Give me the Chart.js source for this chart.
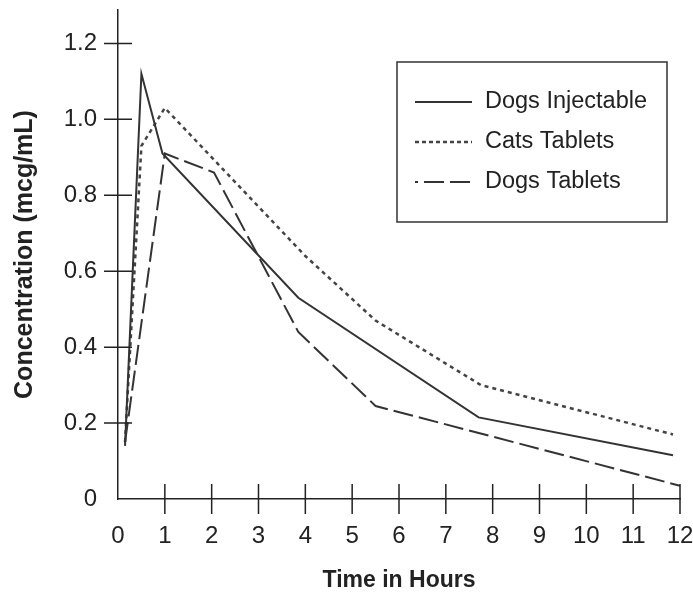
<!DOCTYPE html>
<html>
<head>
<meta charset="utf-8">
<script src="https://cdn.jsdelivr.net/npm/chart.js@4"></script>
<style>
  body { margin: 0; background: #fff; }
  #wrap { width: 693px; height: 595px; }
</style>
</head>
<body>
<div id="wrap"><canvas id="conc" width="693" height="595"></canvas></div>
<script>
// values (hours, mcg/mL)
const injTimes = [0.15, 0.5, 0.95, 3.85, 7.7, 11.85];
const injConc = [0.14, 1.12, 0.91, 0.53, 0.215, 0.115];

const catTimes = [0.15, 0.5, 1, 4, 5.5, 7.75, 11.85];
const catConc = [0.15, 0.93, 1.03, 0.64, 0.47, 0.30, 0.17];

const dogTabTimes = [0.15, 1, 2.05, 3.85, 5.5, 12];
const dogTabConc = [0.15, 0.91, 0.86, 0.44, 0.245, 0.035];

const xTicks = [0, 1, 2, 3, 4, 5, 6, 7, 8, 9, 10, 11, 12];
const yTicks = [0, 0.2, 0.4, 0.6, 0.8, 1.0, 1.2];

const seriesLabels = ['Dogs Injectable', 'Cats Tablets', 'Dogs Tablets'];

const FONT = "'Liberation Sans', Arial, sans-serif";
const INK = '#222';

function points(xs, ys) {
  return xs.map((x, i) => ({ x: x, y: ys[i] }));
}

// ticks that cross the axes, both sides
const crossTicks = {
  id: 'crossTicks',
  afterDraw(chart) {
    const ctx = chart.ctx;
    const xs = chart.scales.x;
    const ys = chart.scales.y;
    const x0 = xs.getPixelForValue(0);
    const y0 = ys.getPixelForValue(0);
    ctx.save();
    ctx.strokeStyle = INK;
    ctx.lineWidth = 1.5;
    ctx.beginPath();
    yTicks.forEach(v => {
      if (v === 0) return;
      const py = ys.getPixelForValue(v);
      ctx.moveTo(x0 - 14, py);
      ctx.lineTo(x0 + 14, py);
    });
    xTicks.forEach(v => {
      if (v === 0) return;
      const px = xs.getPixelForValue(v);
      ctx.moveTo(px, y0 - 15);
      ctx.lineTo(px, y0 + 15);
    });
    ctx.stroke();
    ctx.restore();
  }
};

// boxed legend in the upper right
const boxLegend = {
  id: 'boxLegend',
  afterDraw(chart) {
    const ctx = chart.ctx;
    ctx.save();
    ctx.strokeStyle = '#333';
    ctx.lineWidth = 1.5;
    ctx.strokeRect(397, 62, 270, 160);
    ctx.font = '23.5px ' + FONT;
    ctx.textBaseline = 'middle';
    ctx.fillStyle = INK;
    chart.data.datasets.forEach((ds, i) => {
      const y = 102 + i * 40;
      ctx.save();
      ctx.strokeStyle = ds.borderColor;
      ctx.lineWidth = ds.borderWidth;
      ctx.setLineDash(i === 1 ? [4, 3] : (ds.borderDash || []));
      ctx.lineDashOffset = i === 2 ? 17 : 0;
      ctx.beginPath();
      ctx.moveTo(415, y);
      ctx.lineTo(472, y);
      ctx.stroke();
      ctx.restore();
      ctx.fillText(ds.label, 485, y);
    });
    ctx.restore();
  }
};

const concCanvas = document.getElementById('conc').getContext('2d');

const concConfig = {
  type: 'line',
  data: {
    datasets: [
      {
        label: seriesLabels[0],
        data: points(injTimes, injConc),
        borderColor: '#333',
        borderWidth: 2,
        pointRadius: 0,
        tension: 0
      },
      {
        label: seriesLabels[1],
        data: points(catTimes, catConc),
        borderColor: '#444',
        borderWidth: 2.5,
        borderDash: [4, 4],
        pointRadius: 0,
        tension: 0
      },
      {
        label: seriesLabels[2],
        data: points(dogTabTimes, dogTabConc),
        borderColor: '#333',
        borderWidth: 2,
        borderDash: [20, 6],
        pointRadius: 0,
        tension: 0
      }
    ]
  },
  options: {
    responsive: false,
    animation: false,
    layout: { padding: { top: 10, right: 13, left: 0, bottom: 0 } },
    plugins: {
      legend: { display: false },
      tooltip: { enabled: false }
    },
    scales: {
      x: {
        type: 'linear',
        min: 0,
        max: 12,
        afterFit: function (scale) {
          scale.height = 96;
          scale.paddingLeft = 0;
          scale.paddingRight = 0;
        },
        afterBuildTicks: function (scale) {
          scale.ticks = xTicks.map(v => ({ value: v }));
        },
        grid: { display: true, drawOnChartArea: false, drawTicks: false },
        border: { display: true, color: INK, width: 1.5 },
        ticks: {
          padding: 23,
          maxRotation: 0,
          autoSkip: false,
          color: INK,
          font: { family: FONT, size: 24 }
        },
        title: {
          display: true,
          text: 'Time in Hours',
          color: INK,
          font: { family: FONT, size: 23, weight: 'bold' },
          padding: { top: 0, bottom: 1 }
        }
      },
      y: {
        type: 'linear',
        min: 0,
        max: 1.288,
        afterFit: function (scale) {
          scale.width = 118;
          scale.paddingTop = 0;
          scale.paddingBottom = 0;
        },
        afterBuildTicks: function (scale) {
          scale.ticks = yTicks.map(v => ({ value: v }));
        },
        grid: { display: true, drawOnChartArea: false, drawTicks: false },
        border: { display: true, color: INK, width: 1.5 },
        ticks: {
          padding: 21,
          color: INK,
          font: { family: FONT, size: 24 },
          // plain 0, one decimal for the rest
          callback: function (value) {
            return value === 0 ? '0' : value.toFixed(1);
          }
        },
        title: {
          display: true,
          text: 'Concentration (mcg/mL)',
          color: INK,
          font: { family: FONT, size: 25, weight: 'bold' },
          padding: { top: 10, bottom: 0 }
        }
      }
    }
  },
  plugins: [crossTicks, boxLegend]
};

const concChart = new Chart(concCanvas, concConfig);
</script>
</body>
</html>
